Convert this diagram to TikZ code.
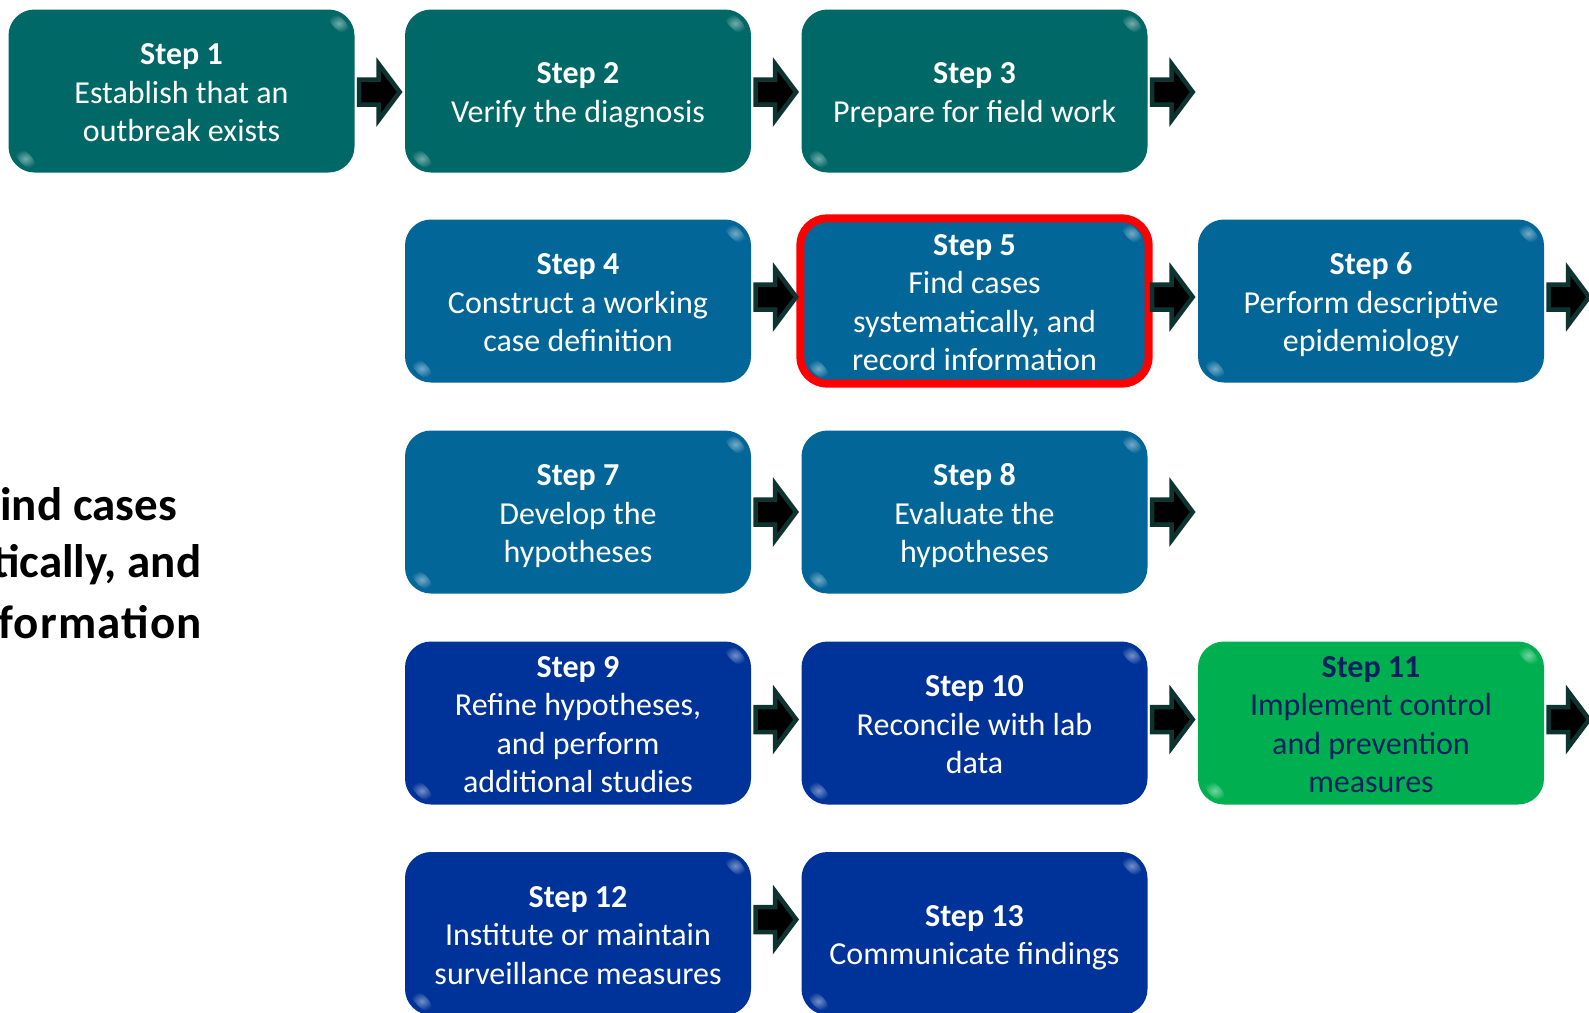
\documentclass[tikz,border=0pt]{standalone}
\usepackage{fontspec}
\setmainfont{Carlito}
\usetikzlibrary{calc}

\definecolor{tealbox}{RGB}{0,104,102}
\definecolor{bluebox}{RGB}{2,102,152}
\definecolor{navybox}{RGB}{0,51,153}
\definecolor{greenbox}{RGB}{0,176,80}
\definecolor{greentext}{RGB}{0,32,96}
\definecolor{arrowedge}{RGB}{14,52,50}
\definecolor{hilite}{RGB}{255,0,0}

\tikzset{
  stepbox/.style={fill=#1, rounded corners=26pt, minimum width=346pt,
    minimum height=163pt, inner sep=0pt, text=white,
    font=\fontsize{32}{38.5}\selectfont},
  blockarrow/.style={fill=black, draw=arrowedge, line width=4.5pt, line join=miter},
  sidetext/.style={anchor=base east, inner sep=0pt,
    font=\fontsize{47}{57}\selectfont\bfseries},
}

% box label: bold step title over centred description lines, set slightly low
\newcommand\st[2]{\raisebox{-4.5pt}[\height][\depth]{\begin{tabular}{@{}c@{}}\textbf{#1}\\#2\end{tabular}}}

% block arrow leaving the east side of a box; #2 = vertical offset (down positive)
\newcommand\flowarrow[2]{%
  \draw[blockarrow] ($(#1.east)+(4.5,{#2-12.5})$) -- ++(19.5,0) -- ++(0,-15.5)
    -- ++(21,28) -- ++(-21,28) -- ++(0,-15.5) -- ++(-19.5,0) -- cycle;}

% soft glossy spots at the top-right and bottom-left corners of a box
\newcommand\gloss[2]{%
  \shade[inner color=white!45!#2, outer color=#2]
    ($(#1.north east)+(-16,14)$) ellipse [x radius=13, y radius=6, rotate=-45];
  \shade[inner color=white!45!#2, outer color=#2]
    ($(#1.south west)+(17,-14)$) ellipse [x radius=13, y radius=6, rotate=-45];}

\begin{document}
\begin{tikzpicture}[x=1pt, y=-1pt]
\useasboundingbox (0,0) rectangle (1589,1012);
\clip (0,0) rectangle (1589,1012);
\fill[white] (0,0) rectangle (1589,1012);

% caption at the left edge
\node[sidetext] (l1) at (177,520) {Find cases};
\node[sidetext] (l2) at (201.5,577) {systematically, and};
\node[sidetext] (l3) at (202.5,638) {\addfontfeature{LetterSpace=2.6}record information};

% row 1
\node[stepbox=tealbox] (s1) at (181.5,91) {\st{Step 1}{Establish that an\\outbreak exists}};
\node[stepbox=tealbox] (s2) at (578,91) {\st{Step 2}{Verify the diagnosis}};
\node[stepbox=tealbox] (s3) at (974.5,91) {\st{Step 3}{Prepare for field work}};
% row 2
\node[stepbox=bluebox] (s4) at (578,301) {\st{Step 4}{Construct a working\\case definition}};
\node[stepbox=bluebox] (s5) at (974.5,301) {\st{Step 5}{Find cases\\systematically, and\\record information}};
\node[stepbox=bluebox] (s6) at (1371,301) {\st{Step 6}{Perform descriptive\\epidemiology}};
% row 3
\node[stepbox=bluebox] (s7) at (578,512) {\st{Step 7}{Develop the\\hypotheses}};
\node[stepbox=bluebox] (s8) at (974.5,512) {\st{Step 8}{Evaluate the\\hypotheses}};
% row 4
\node[stepbox=navybox] (s9) at (578,723) {\st{Step 9}{Refine hypotheses,\\and perform\\additional studies}};
\node[stepbox=navybox] (s10) at (974.5,723) {\st{Step 10}{Reconcile with lab\\data}};
\node[stepbox=greenbox, text=greentext] (s11) at (1371,723) {\st{Step 11}{Implement control\\and prevention\\measures}};
% row 5
\node[stepbox=navybox] (s12) at (578,933.5) {\st{Step 12}{Institute or maintain\\surveillance measures}};
\node[stepbox=navybox] (s13) at (974.5,933.5) {\st{Step 13}{Communicate findings}};

\gloss{s1}{tealbox}\gloss{s2}{tealbox}\gloss{s3}{tealbox}
\gloss{s4}{bluebox}\gloss{s5}{bluebox}\gloss{s6}{bluebox}
\gloss{s7}{bluebox}\gloss{s8}{bluebox}
\gloss{s9}{navybox}\gloss{s10}{navybox}\gloss{s11}{greenbox}
\gloss{s12}{navybox}\gloss{s13}{navybox}

% red frame around the current step
\draw[hilite, line width=8pt, rounded corners=27pt]
  ([xshift=-1pt,yshift=1pt]s5.north west) rectangle ([xshift=1pt,yshift=-1pt]s5.south east);

% arrows
\flowarrow{s1}{1}\flowarrow{s2}{1}\flowarrow{s3}{1}
\flowarrow{s4}{-4}\flowarrow{s5}{-4}\flowarrow{s6}{-4}
\flowarrow{s7}{0}\flowarrow{s8}{0}
\flowarrow{s9}{-3.5}\flowarrow{s10}{-3.5}\flowarrow{s11}{-3.5}
\flowarrow{s12}{-14}
\end{tikzpicture}
\end{document}
